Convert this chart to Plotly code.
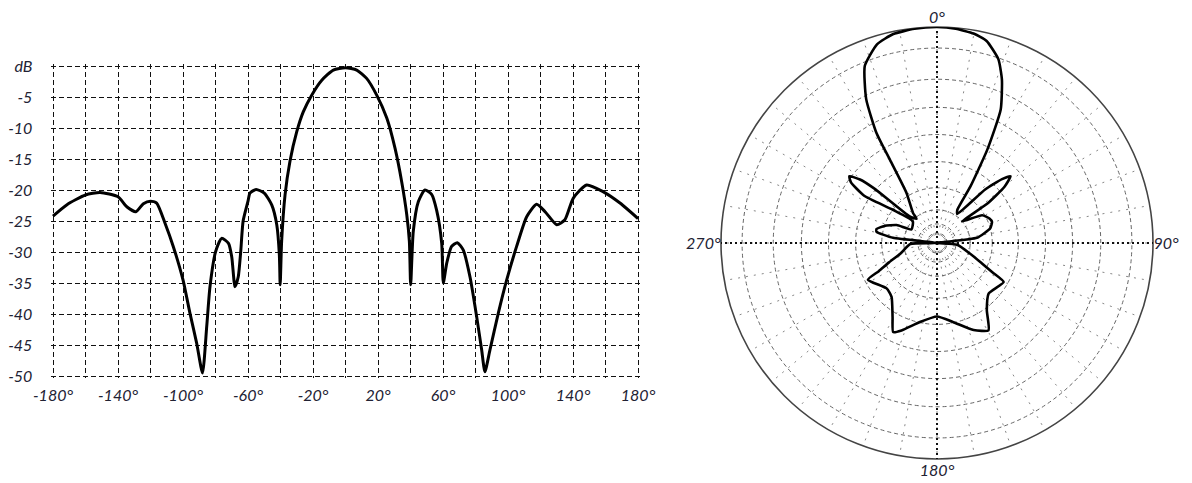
import numpy as np
import plotly.graph_objects as go

# ---- cartesian pattern (angle in degrees, level in dB) ----
ANGLE_DEG = [-180, -171.6, -160, -151, -140, -134.6, -129, -124.4, -120, -116.2,
             -111, -106, -100, -95.7, -91.6, -88, -85.4, -83.4, -80, -76.2,
             -72, -70, -68, -66, -64.5, -63, -60, -58.8, -55, -50,
             -45.4, -42.3, -40.7, -40.2, -39.3, -37.2, -34.2, -30, -26, -20.8,
             -14.6, -7.5, 0, 6.9, 13, 19.2, 25.4, 30.5, 34.6, 37.7,
             39.3, 40.1, 41.7, 44.8, 48.9, 53, 56.1, 59.2, 60.2, 62.3,
             65.3, 68.8, 72.5, 76.6, 80.7, 83.8, 85.8, 88.9, 94, 99.2,
             105.3, 111.5, 117.6, 122.8, 130, 135, 140.2, 148.4, 158.7, 168.9, 180]
LEVEL_DB = [-24.2, -22.4, -20.8, -20.4, -21.1, -22.7, -23.5, -22.2, -21.8, -22.1,
            -25.4, -29.1, -34.5, -39.9, -44.7, -49.5, -42, -35.6, -30, -27.8,
            -28.6, -30.8, -35.6, -34, -30, -25, -21.8, -20.5, -19.9, -20.5,
            -22.4, -25.6, -30.5, -35.3, -28.3, -20.8, -15.4, -10.6, -7.4, -4.7,
            -2.3, -0.65, -0.3, -0.65, -2, -4.7, -8.4, -13.3, -18.7, -24,
            -28.3, -35.3, -26.7, -21.9, -20, -20.7, -23.3, -28.6, -35, -31.8,
            -29.1, -28.5, -29.7, -34, -40.4, -45.8, -49.3, -45.8, -39.9, -34.5,
            -29.1, -24.3, -22.3, -23.5, -25.6, -24.8, -21.3, -19.2, -20.3, -22.1, -24.6]

# ---- polar pattern (path order, angle clockwise from 0°) ----
POLAR_THETA = [-180, -167.8, -157.9, -153.8, -149, -139.8, -132, -118, -115.8, -112,
               -105.7, -92, -90, -83.3, -79.4, -77, -72, -66, -62, -48,
               -53, -57, -54.8, -52.7, -50.5, -49, -45.8, -40, -38.6, -31.4,
               -29.5, -28.8, -26.2, -22.2, -16.8, -11.8, -6, 0, 5, 9.9,
               13.8, 18.5, 21.7, 25.5, 28.3, 30.6, 31.5, 34.9, 42, 45.5,
               47.8, 50.2, 52, 49.2, 58.5, 65, 69, 74.5, 82.6, 90,
               95, 107.7, 114.3, 117.8, 120.3, 134.4, 143.4, 149.5, 157.2, 168.3, 180]
POLAR_DB = [-26.5, -25.1, -22.6, -21.7, -24.1, -27.1, -27.6, -25.6, -28.2, -30.8,
            -34, -37.3, -50, -32.5, -28.8, -28.7, -30, -32.5, -36.5, -35.2,
            -30, -24, -20.6, -19.7, -21.6, -24.8, -33.9, -35.5, -33.8, -29.4,
            -22.4, -16.8, -10.6, -5.6, -2.0, -0.6, -0.15, 0, -0.2, -0.8,
            -1.9, -5.2, -8.1, -12.8, -20.4, -28, -33.7, -34.5, -26.8, -23.2,
            -21.7, -23.8, -28.4, -35, -30.5, -29.5, -29.3, -30, -33.4, -50,
            -39.6, -34.7, -31.4, -28.6, -25.8, -26.75, -24.6, -21.3, -22.6, -25.1, -26.5]

# axis ticks
DB_TICKS = [0, -5, -10, -15, -20, -25, -30, -35, -40, -45, -50]
DB_TICK_TEXT = ["dB", "-5", "-10", "-15", "-20", "-25", "-30", "-35", "-40", "-45", "-50"]
X_GRID = list(range(-180, 181, 20))
X_LABELED = [-180, -140, -100, -60, -20, 20, 60, 100, 140, 180]
X_TICK_TEXT = [f"{v}°" if v in X_LABELED else "" for v in X_GRID]

# polar radial scale (dB level -> ring radius)
RING_DB = [0, -5, -10, -15, -20, -25, -30, -35, -40, -45, -50]
RING_RADIUS = [215, 194, 163, 135, 108, 81, 55, 33, 19, 10, 0]
POLAR_LABEL_ANGLES = [0, 90, 180, 270]
POLAR_LABEL_TEXT = ["0°", "90°", "180°", "270°"]

W, H = 1192, 483
FONT = dict(family="Lato, 'Open Sans', sans-serif", size=16, color="#222233", style="italic")

r_polar = np.interp(POLAR_DB, RING_DB[::-1], RING_RADIUS[::-1])

fig = go.Figure()
fig.add_trace(go.Scatter(
    x=ANGLE_DEG, y=LEVEL_DB, mode="lines",
    line=dict(color="black", width=3, shape="spline", smoothing=0.6),
    hoverinfo="skip", showlegend=False))

# empty trace to materialise the grey-grid polar subplot
fig.add_trace(go.Scatterpolar(r=[], theta=[], subplot="polar", showlegend=False))
fig.add_trace(go.Scatterpolar(
    r=r_polar, theta=POLAR_THETA, mode="lines", subplot="polar2",
    line=dict(color="black", width=2.6, shape="spline", smoothing=0.5),
    hoverinfo="skip", showlegend=False))

# cartesian geometry: -180..180 deg -> 53..638 px, 0..-50 dB -> 66..376 px
PXD = (638 - 53) / 360.0
PXDB = (376 - 66) / 50.0
XPAD, YPAD = 1.0, 0.3
x_dom = [(53 - XPAD * PXD) / W, (638 + XPAD * PXD) / W]
y_dom = [1 - (376 + YPAD * PXDB) / H, 1 - (66 - YPAD * PXDB) / H]

grid_dash = "5px,3px"
fig.update_layout(
    width=W, height=H,
    margin=dict(l=0, r=0, t=0, b=0),
    paper_bgcolor="white", plot_bgcolor="white",
    font=FONT,
    xaxis=dict(domain=x_dom, range=[-180 - XPAD, 180 + XPAD], automargin=False,
               tickvals=X_GRID, ticktext=X_TICK_TEXT, ticks="",
               showgrid=True, gridcolor="#111", gridwidth=1.3, griddash=grid_dash,
               zeroline=False, showline=False, tickfont=FONT,
               ticklabelstandoff=6),
    yaxis=dict(domain=y_dom, range=[-50 - YPAD, 0 + YPAD], automargin=False,
               tickvals=DB_TICKS, ticktext=DB_TICK_TEXT, ticks="",
               showgrid=True, gridcolor="#111", gridwidth=1.3, griddash=grid_dash,
               zeroline=False, showline=False, tickfont=FONT,
               ticklabelstandoff=18),
    polar=dict(
        domain=dict(x=[721 / W, 1153 / W], y=[1 - 459 / H, 1 - 27 / H]),
        bgcolor="white",
        radialaxis=dict(range=[0, 215], tickvals=RING_RADIUS[1:-1], showticklabels=False,
                        ticks="", showline=False, gridcolor="#666", gridwidth=1.2,
                        griddash="4px,3px"),
        angularaxis=dict(direction="clockwise", rotation=90,
                         tickvals=list(range(0, 360, 10)), showticklabels=False, ticks="",
                         showline=True, linecolor="#444", linewidth=1.6,
                         gridcolor="#888", gridwidth=1.3, griddash="2px,6px"),
    ),
    polar2=dict(
        domain=dict(x=[721 / W, 1153 / W], y=[1 - 459 / H, 1 - 27 / H]),
        bgcolor="rgba(0,0,0,0)",
        radialaxis=dict(range=[0, 215], visible=False),
        angularaxis=dict(direction="clockwise", rotation=90,
                         tickvals=POLAR_LABEL_ANGLES, ticktext=POLAR_LABEL_TEXT,
                         ticks="", showline=False, tickfont=FONT,
                         gridcolor="#111", gridwidth=1.5, griddash="2px,3px"),
    ),
)

fig.write_html("out.html", config={"displayModeBar": False},
               post_script="document.body.style.margin='0';document.body.style.overflow='hidden';")
